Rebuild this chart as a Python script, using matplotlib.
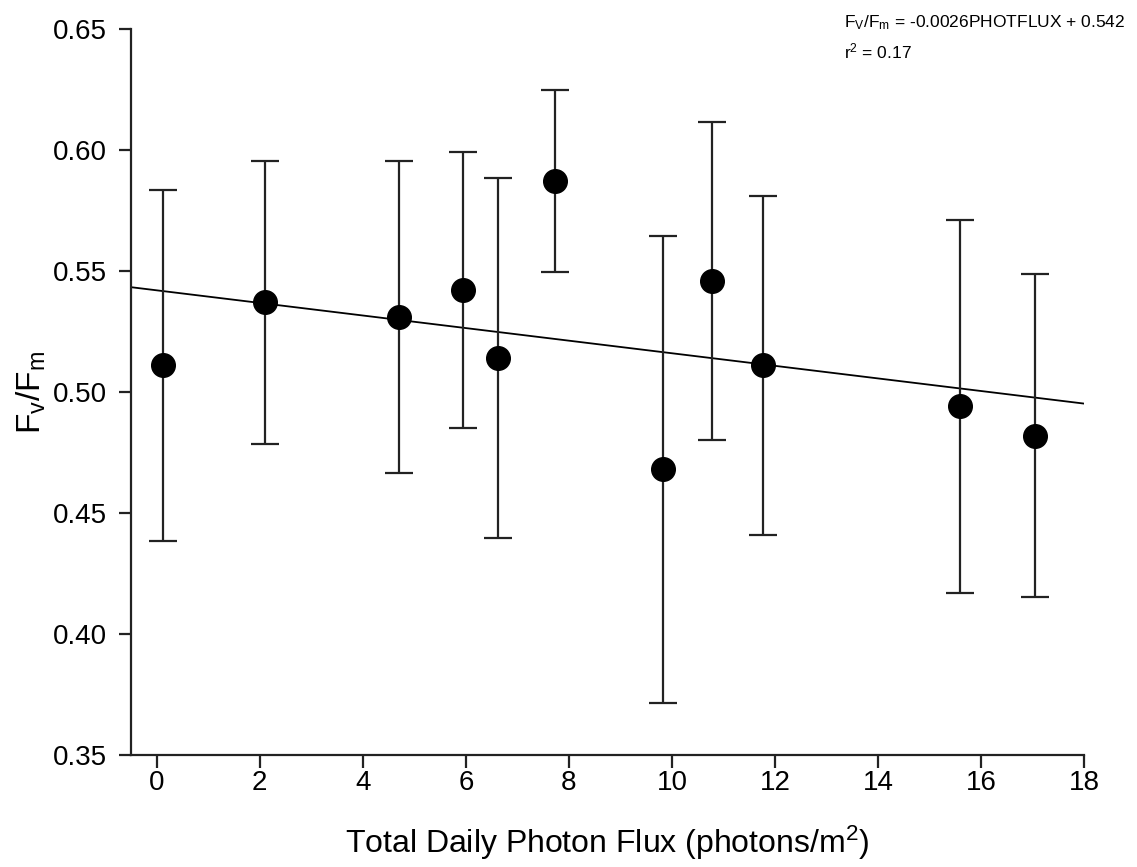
import numpy as np
import matplotlib
matplotlib.use('Agg')
import matplotlib.pyplot as plt

plt.rcParams['font.family'] = ['Liberation Sans', 'DejaVu Sans']
plt.rcParams['mathtext.fontset'] = 'custom'
plt.rcParams['mathtext.rm'] = 'Liberation Sans'
plt.rcParams['mathtext.it'] = 'Liberation Sans:italic'

# data
photon_flux = [0.12, 2.10, 4.71, 5.95, 6.63, 7.74, 9.83, 10.78, 11.77, 15.60, 17.04]
fvfm = [0.511, 0.537, 0.531, 0.542, 0.514, 0.587, 0.468, 0.546, 0.511, 0.494, 0.482]
fvfm_err = [0.0725, 0.0585, 0.0645, 0.057, 0.0744, 0.0376, 0.0965, 0.0657, 0.070, 0.077, 0.0666]

slope = -0.0026
intercept = 0.542

x_ticks = [0, 2, 4, 6, 8, 10, 12, 14, 16, 18]
y_ticks = [0.35, 0.40, 0.45, 0.50, 0.55, 0.60, 0.65]

fig = plt.figure(figsize=(11.37, 8.67), dpi=100)
ax = fig.add_axes([0.1152, 0.1292, 0.9534 - 0.1152, 0.9666 - 0.1292])

# regression line
xl = np.array([-0.5, 18])
ax.plot(xl, intercept + slope * xl, color='black', lw=1.3, zorder=2)

ax.errorbar(photon_flux, fvfm, yerr=fvfm_err, fmt='o', color='black',
            markersize=17, ecolor='#222222', elinewidth=1.6, capsize=10,
            capthick=1.6, zorder=3)

ax.set_xlim(-0.5, 18)
ax.set_ylim(0.35, 0.65)
ax.set_xticks(x_ticks)
ax.set_yticks(y_ticks)
ax.set_yticklabels(['%.2f' % v for v in y_ticks])

for s in ['top', 'right']:
    ax.spines[s].set_visible(False)
for s in ['left', 'bottom']:
    ax.spines[s].set_linewidth(1.6)
    ax.spines[s].set_color('#222222')

ax.tick_params(direction='out', length=9, width=1.6, labelsize=20, color='#222222')
ax.tick_params(axis='x', pad=2)
ax.tick_params(axis='y', pad=8)

ax.set_xlabel(r'Total Daily Photon Flux (photons/m$^{2}$)', fontsize=23, labelpad=20)
ax.set_ylabel(r'F$_\mathregular{v}$/F$_\mathregular{m}$', fontsize=24, labelpad=4)

fig.text(0.742, 0.969, r'F$_\mathregular{V}$/F$_\mathregular{m}$ = -0.0026PHOTFLUX + 0.542',
         fontsize=12.5, ha='left', va='baseline')
fig.text(0.742, 0.933, r'r$^\mathregular{2}$ = 0.17', fontsize=12.5, ha='left', va='baseline')

fig.savefig('out.png', dpi=100)
